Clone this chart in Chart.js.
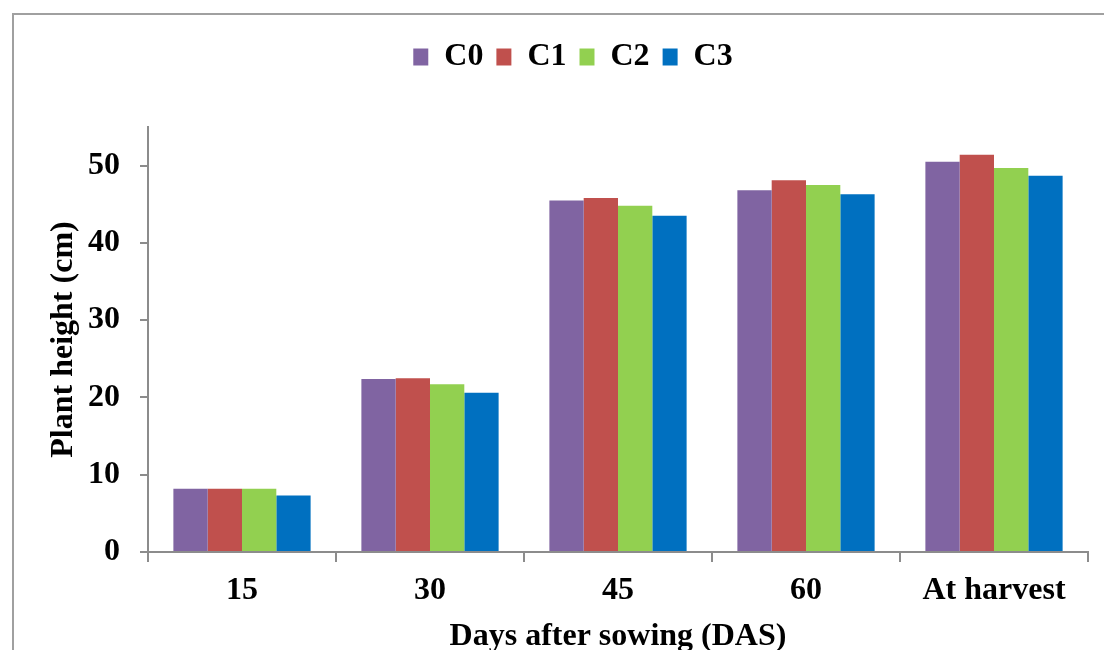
<!DOCTYPE html>
<html>
<head>
<meta charset="utf-8">
<script src="https://cdn.jsdelivr.net/npm/chart.js@4.4.1/dist/chart.umd.min.js"></script>
<style>
  html, body { margin: 0; padding: 0; background: #fff; overflow: hidden; }
  .frame { position: absolute; left: 12px; top: 13px; width: 1200px; height: 700px; border: 2px solid #a0a0a0; }
  .wrap { position: absolute; left: 0; top: 0; width: 1104px; height: 650px; }
</style>
</head>
<body>
<div class="frame"></div>
<div class="wrap"><canvas id="chart"></canvas></div>
<script>
const categories = ['15', '30', '45', '60', 'At harvest'];
const seriesNames = ['C0', 'C1', 'C2', 'C3'];
const c0 = [8.2, 22.4, 45.5, 46.8, 50.5];
const c1 = [8.2, 22.5, 45.8, 48.1, 51.4];
const c2 = [8.2, 21.7, 44.8, 47.5, 49.7];
const c3 = [7.3, 20.6, 43.5, 46.3, 48.7];
const yTicks = [0, 10, 20, 30, 40, 50];

const colors = ['#8064A2', '#C0504D', '#92D050', '#0070C0'];
const axisColor = '#8c8c8c';
const font = (size) => ({ family: '"Liberation Serif", "Times New Roman", serif', size: size, weight: 'bold' });

const ctx = document.getElementById('chart').getContext('2d');
new Chart(ctx, {
  type: 'bar',
  data: {
    labels: categories,
    datasets: [c0, c1, c2, c3].map((vals, i) => ({
      label: seriesNames[i],
      data: vals,
      backgroundColor: colors[i],
      borderWidth: 0,
      categoryPercentage: 0.73,
      barPercentage: 1.0
    }))
  },
  options: {
    responsive: true,
    maintainAspectRatio: false,
    animation: false,
    layout: { padding: { top: 28, right: 16, bottom: 0, left: 58 } },
    plugins: {
      legend: {
        position: 'top',
        labels: { boxWidth: 15, boxHeight: 17, padding: 13, color: '#000', font: font(32) }
      },
      // empty title, only a spacer between the legend and the plot
      title: { display: true, text: '', weight: 500, font: { size: 10 }, padding: { top: 0, bottom: 32 } },
      tooltip: { enabled: false }
    },
    scales: {
      x: {
        grid: { display: true, drawOnChartArea: false, drawTicks: true, tickLength: 10, color: axisColor, lineWidth: 2 },
        border: { display: true, color: axisColor, width: 2 },
        ticks: { color: '#000', font: font(32), padding: 10 },
        title: { display: true, text: 'Days after sowing (DAS)', color: '#000', font: font(32), padding: { top: 0, bottom: -6 } },
        afterFit: (scale) => { scale.height = 98; }
      },
      y: {
        min: 0,
        max: 55,
        afterBuildTicks: (scale) => { scale.ticks = yTicks.map(v => ({ value: v })); },
        grid: { display: true, drawOnChartArea: false, drawTicks: true, tickLength: 8, color: axisColor, lineWidth: 2 },
        border: { display: true, color: axisColor, width: 2 },
        ticks: { color: '#000', font: font(32), padding: 20 },
        title: { display: true, text: 'Plant height (cm)', color: '#000', font: font(32), padding: { top: -13, bottom: 0 } },
        afterFit: (scale) => { scale.width = 90; }
      }
    }
  }
});
</script>
</body>
</html>
